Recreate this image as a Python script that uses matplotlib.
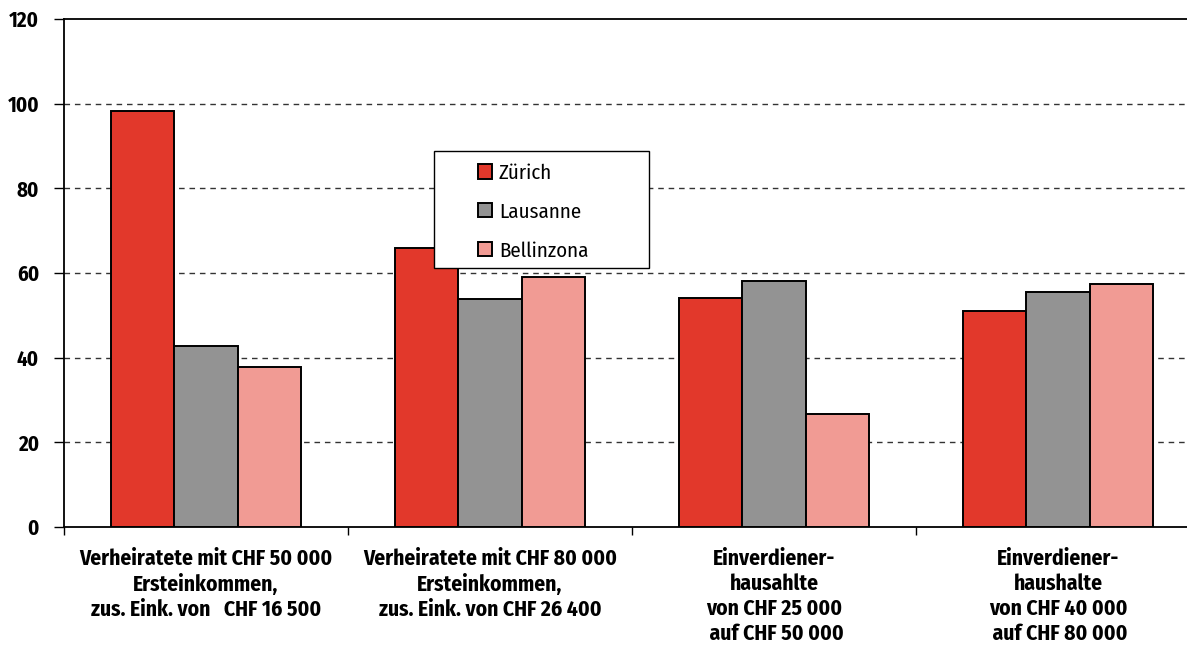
import matplotlib.pyplot as plt
from matplotlib.patches import Rectangle
import numpy as np

categories = [
    "Verheiratete mit CHF 50 000\nErsteinkommen,\nzus. Eink. von   CHF 16 500",
    "Verheiratete mit CHF 80 000\nErsteinkommen,\nzus. Eink. von CHF 26 400",
    "Einverdiener-\nhausahlte\nvon CHF 25 000\n auf CHF 50 000",
    "Einverdiener-\nhaushalte\nvon CHF 40 000\n auf CHF 80 000",
]
cities = ["Zürich", "Lausanne", "Bellinzona"]
zuerich = [98.3, 65.8, 54.1, 51.1]
lausanne = [42.8, 53.9, 58.0, 55.6]
bellinzona = [37.9, 59.0, 26.7, 57.3]
colors = ["#E2382B", "#939393", "#F19B94"]

plt.rcParams['font.family'] = ['Fira Sans Condensed', 'Roboto Condensed',
                               'Asap Condensed', 'DejaVu Sans']

fig = plt.figure(figsize=(11.87, 6.45), dpi=100)
ax = fig.add_axes([64 / 1187, 118 / 645, 1136 / 1187, 508 / 645])

x = np.arange(len(categories))
width = 0.224
for i, (vals, name) in enumerate(zip([zuerich, lausanne, bellinzona], cities)):
    ax.bar(x + (i - 1) * width, vals, width, color=colors[i], edgecolor='black',
           linewidth=1.4, label=name, zorder=3)

ax.set_xlim(-0.5, len(categories) - 0.5)
ax.set_ylim(0, 120)
ax.set_yticks(range(0, 121, 20))
ax.set_yticklabels([str(v) for v in range(0, 121, 20)], fontsize=15, fontweight='bold')
for y in range(20, 101, 20):
    ax.axhline(y, color='#333333', linestyle=(0, (4, 3.5)), linewidth=1, zorder=1)

# group boundaries carry the tick marks, labels sit in between
ax.set_xticks(np.arange(-0.5, len(categories), 1.0))
ax.set_xticklabels([])
ax.set_xticks(x, minor=True)
ax.set_xticklabels(categories, minor=True, fontsize=15.5, fontweight='bold', linespacing=1.24)
ax.tick_params(axis='x', which='minor', length=0, pad=15)
ax.tick_params(axis='x', which='major', length=6, width=1)
ax.tick_params(axis='y', length=7, width=1, pad=11)

for s in ['top', 'left', 'bottom']:
    ax.spines[s].set_linewidth(1.3)
ax.spines['right'].set_visible(False)

# legend box is wider than its entries, so draw the frame separately
ax.add_patch(Rectangle((0.3257, 0.510), 0.515 - 0.3257, 0.740 - 0.510,
                       transform=ax.transAxes, facecolor='white', edgecolor='black',
                       linewidth=1, zorder=4, clip_on=False))
leg = ax.legend(loc='upper left', bbox_to_anchor=(0.3644, 0.716), borderaxespad=0,
                borderpad=0, fontsize=15, frameon=False,
                handlelength=0.67, handleheight=0.67, labelspacing=0.93,
                handletextpad=0.33)
leg.set_zorder(5)

fig.savefig('out.png', dpi=100)
